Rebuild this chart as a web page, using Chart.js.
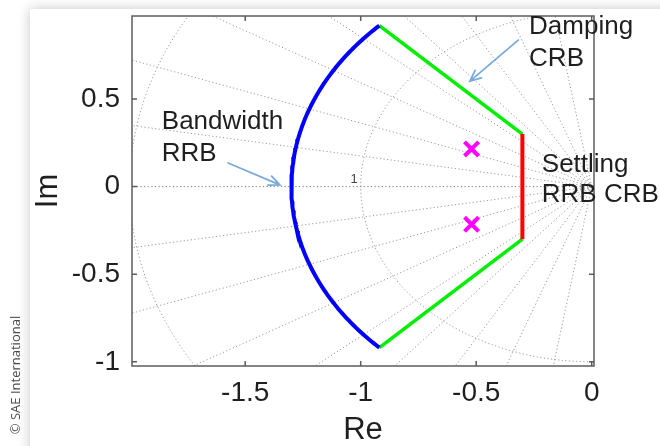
<!DOCTYPE html>
<html>
<head>
<meta charset="utf-8">
<title>Pole placement region</title>
<script src="https://cdn.jsdelivr.net/npm/chart.js@4.4.1/dist/chart.umd.min.js"></script>
<style>
  html, body { margin: 0; padding: 0; background: #ffffff; }
  #wrap { position: relative; width: 660px; height: 446px; overflow: hidden; background: #ffffff; }
  #card { position: absolute; left: 30px; top: 9px; width: 720px; height: 520px; background: #ffffff;
          box-shadow: 0 0 12px rgba(0, 0, 0, 0.22); }
  #chart { position: absolute; left: 0; top: 0; }
</style>
</head>
<body>
<div id="wrap">
  <div id="card"></div>
  <canvas id="chart" width="660" height="446"></canvas>
</div>
<script>
// Axis ticks
const xTickValues = [-1.5, -1, -0.5, 0];
const yTickValues = [-1, -0.5, 0, 0.5];

// Closed-loop poles
const poleRe = [-0.52, -0.52];
const poleIm = [0.215, -0.215];

// Design constraints: settling (real part), damping ratio, bandwidth (natural frequency)
const settlingSigma = [0.3];
const dampingZeta = [0.707];
const bandwidthWn = [1.3];

// s-plane grid: constant damping rays and constant natural frequency circles
const gridZeta = [0.16, 0.34, 0.5, 0.64, 0.76, 0.86, 0.94, 0.985];
const gridWn = [1, 2];

const FONT = '"Liberation Sans", Arial, sans-serif';
const INK = '#1f1f1f';

// ---- geometry helpers (s-plane, left half) ----
function arcPoints(r, thetaFrom, thetaTo) {
  // theta measured from the negative real axis, positive = upper half plane
  const pts = [];
  const n = 120;
  for (let i = 0; i <= n; i++) {
    const t = thetaFrom + (thetaTo - thetaFrom) * i / n;
    pts.push({ x: -r * Math.cos(t), y: r * Math.sin(t) });
  }
  return pts;
}
function rayPoints(theta, length) {
  return [{ x: 0, y: 0 }, { x: -length * Math.cos(theta), y: length * Math.sin(theta) }];
}

const sigma = settlingSigma[0];
const theta = Math.acos(dampingZeta[0]);
const wn = bandwidthWn[0];

const gridStyle = {
  type: 'scatter', showLine: true, pointRadius: 0, borderColor: '#9a9a9a',
  borderWidth: 1, borderDash: [1.2, 2.4], order: 10, fill: false
};

const gridSets = [];
gridZeta.forEach(z => {
  const a = Math.acos(z);
  gridSets.push(Object.assign({ data: rayPoints(a, 3) }, gridStyle));
  gridSets.push(Object.assign({ data: rayPoints(-a, 3) }, gridStyle));
});
gridSets.push(Object.assign({ data: rayPoints(0, 3) }, gridStyle, { borderColor: '#7a7a7a' }));
gridWn.forEach(r => {
  gridSets.push(Object.assign({ data: arcPoints(r, -Math.PI / 2, Math.PI / 2) }, gridStyle));
});

const boundarySets = [
  { // bandwidth limit
    type: 'scatter', showLine: true, pointRadius: 0, borderColor: '#0000ff', borderWidth: 4,
    data: arcPoints(wn, theta, -theta), order: 3
  },
  { // damping limit, upper
    type: 'scatter', showLine: true, pointRadius: 0, borderColor: '#00ee00', borderWidth: 3.5,
    data: [{ x: -wn * Math.cos(theta), y: wn * Math.sin(theta) }, { x: -sigma, y: sigma * Math.tan(theta) }], order: 3
  },
  { // damping limit, lower
    type: 'scatter', showLine: true, pointRadius: 0, borderColor: '#00ee00', borderWidth: 3.5,
    data: [{ x: -wn * Math.cos(theta), y: -wn * Math.sin(theta) }, { x: -sigma, y: -sigma * Math.tan(theta) }], order: 3
  },
  { // settling limit
    type: 'scatter', showLine: true, pointRadius: 0, borderColor: '#ff0000', borderWidth: 4,
    data: [{ x: -sigma, y: sigma * Math.tan(theta) }, { x: -sigma, y: -sigma * Math.tan(theta) }], order: 2
  }
];

const poleSet = {
  type: 'scatter', showLine: false,
  data: poleRe.map((re, i) => ({ x: re, y: poleIm[i] })),
  pointStyle: 'crossRot', pointRadius: 10, borderColor: '#ff00ff', borderWidth: 4,
  backgroundColor: '#ff00ff', order: 1, clip: false
};

// Text notes and arrows, anchored in data coordinates
const notes = [
  { lines: ['Bandwidth', 'RRB'], at: [-1.861, 0.329], lead: 32 },
  { lines: ['Damping', 'CRB'], at: [-0.271, 0.874], lead: 32 },
  { lines: ['Settling', 'RRB CRB'], at: [-0.216, 0.084], lead: 30 }
];
const arrows = [
  { from: [-1.574, 0.135], to: [-1.35, 0.01] },
  { from: [-0.318, 0.836], to: [-0.527, 0.602] }
];

const frameAndTicks = {
  id: 'frameAndTicks',
  afterDatasetsDraw(chart) {
    const { ctx, chartArea: a, scales: { x, y } } = chart;
    ctx.save();
    // frequency labels on the real axis
    ctx.fillStyle = '#444444';
    ctx.font = '13px ' + FONT;
    ctx.textAlign = 'right';
    ctx.textBaseline = 'alphabetic';
    gridWn.forEach(r => {
      if (-r > x.min) ctx.fillText(String(r), x.getPixelForValue(-r) - 3, y.getPixelForValue(0) - 3.5);
    });
    // box
    ctx.strokeStyle = '#5c5c5c';
    ctx.lineWidth = 1.5;
    ctx.strokeRect(a.left, a.top, a.right - a.left, a.bottom - a.top);
    // inward tick marks on all four sides
    const len = 5;
    ctx.beginPath();
    x.ticks.forEach(t => {
      const px = x.getPixelForValue(t.value);
      ctx.moveTo(px, a.bottom); ctx.lineTo(px, a.bottom - len);
      ctx.moveTo(px, a.top); ctx.lineTo(px, a.top + len);
    });
    y.ticks.forEach(t => {
      const py = y.getPixelForValue(t.value);
      ctx.moveTo(a.left, py); ctx.lineTo(a.left + len, py);
      ctx.moveTo(a.right, py); ctx.lineTo(a.right - len, py);
    });
    ctx.stroke();
    ctx.restore();
  }
};

const notesPlugin = {
  id: 'notesPlugin',
  afterDraw(chart) {
    const { ctx, scales: { x, y } } = chart;
    ctx.save();
    ctx.fillStyle = INK;
    ctx.font = '26px ' + FONT;
    ctx.textAlign = 'left';
    ctx.textBaseline = 'alphabetic';
    notes.forEach(n => {
      const px = x.getPixelForValue(n.at[0]);
      const py = y.getPixelForValue(n.at[1]);
      n.lines.forEach((line, i) => ctx.fillText(line, px, py + i * n.lead));
    });
    ctx.strokeStyle = '#7aaadc';
    ctx.lineWidth = 1.8;
    ctx.lineCap = 'round';
    arrows.forEach(ar => {
      const x0 = x.getPixelForValue(ar.from[0]), y0 = y.getPixelForValue(ar.from[1]);
      const x1 = x.getPixelForValue(ar.to[0]), y1 = y.getPixelForValue(ar.to[1]);
      const ang = Math.atan2(y1 - y0, x1 - x0);
      const head = 12, spread = 0.42;
      ctx.beginPath();
      ctx.moveTo(x0, y0); ctx.lineTo(x1, y1);
      ctx.moveTo(x1 - head * Math.cos(ang - spread), y1 - head * Math.sin(ang - spread));
      ctx.lineTo(x1, y1);
      ctx.lineTo(x1 - head * Math.cos(ang + spread), y1 - head * Math.sin(ang + spread));
      ctx.stroke();
    });
    // credit line along the left margin
    ctx.translate(16, 375);
    ctx.rotate(-Math.PI / 2);
    ctx.fillStyle = '#4a4a4a';
    ctx.font = '13px "Open Sans", sans-serif';
    ctx.textAlign = 'center';
    ctx.textBaseline = 'middle';
    ctx.fillText('\u00A9 SAE International', 0, 0);
    ctx.restore();
  }
};

new Chart(document.getElementById('chart'), {
  type: 'scatter',
  data: { datasets: [poleSet, ...boundarySets, ...gridSets] },
  options: {
    responsive: false,
    maintainAspectRatio: false,
    animation: false,
    events: [],
    layout: { padding: { left: 30, top: 16, right: 66, bottom: 0 } },
    plugins: { legend: { display: false }, tooltip: { enabled: false } },
    scales: {
      x: {
        type: 'linear', position: 'bottom', min: -1.99, max: 0.01,
        afterBuildTicks: s => { s.ticks = xTickValues.map(v => ({ value: v })); },
        afterFit: s => { s.height = 80; s.paddingLeft = 0; s.paddingRight = 0; },
        grid: { display: false, drawTicks: false },
        border: { display: false },
        ticks: { autoSkip: false, maxRotation: 0, padding: 10, color: INK,
                 font: { family: FONT, size: 28 }, callback: v => String(v) },
        title: { display: true, text: 'Re', color: INK, padding: { top: 0, bottom: 0 },
                 font: { family: FONT, size: 31, lineHeight: 1 } }
      },
      y: {
        type: 'linear', position: 'left', min: -1.024, max: 0.974,
        afterBuildTicks: s => { s.ticks = yTickValues.map(v => ({ value: v })); },
        afterFit: s => { s.width = 102; s.paddingTop = 0; s.paddingBottom = 0; },
        grid: { display: false, drawTicks: false },
        border: { display: false },
        ticks: { autoSkip: false, padding: 12, color: INK,
                 font: { family: FONT, size: 28 }, callback: v => String(v) },
        title: { display: true, text: 'Im', color: INK, padding: { top: 3, bottom: 0 },
                 font: { family: FONT, size: 31, lineHeight: 1 } }
      }
    }
  },
  plugins: [frameAndTicks, notesPlugin]
});
</script>
</body>
</html>
